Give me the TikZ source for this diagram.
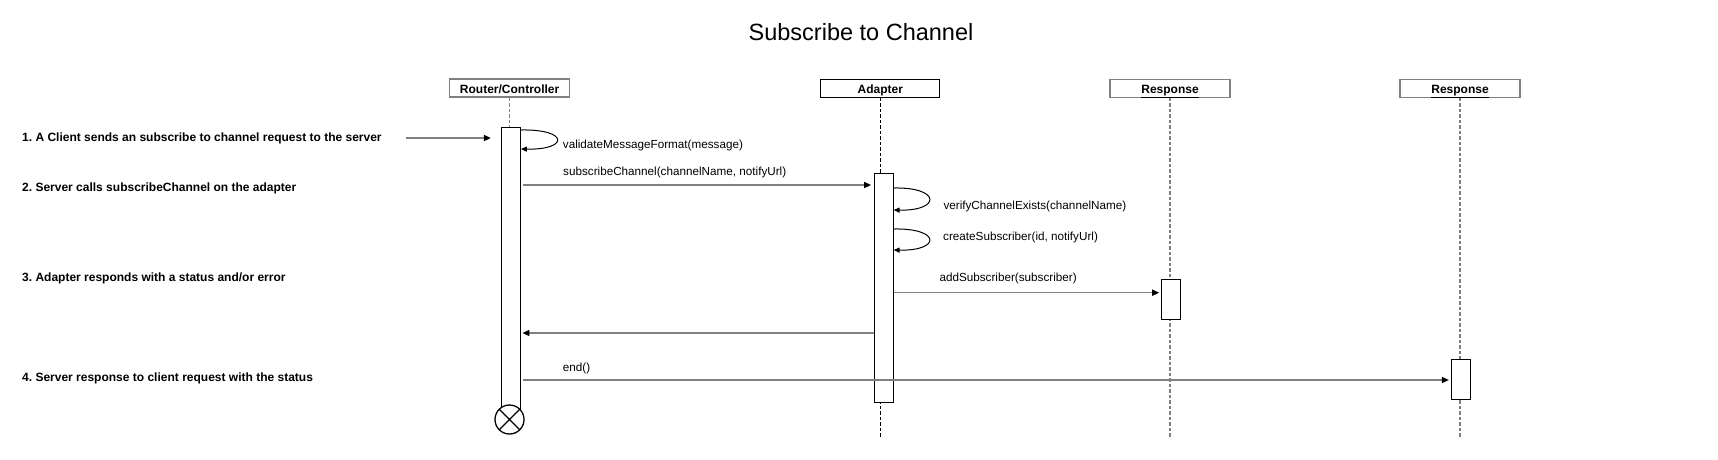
\documentclass[tikz,border=0pt]{standalone}
\usepackage{fontspec}
\setmainfont{Liberation Sans}
\usetikzlibrary{arrows.meta}
\definecolor{linegray}{RGB}{128,128,128}
\frenchspacing
\tikzset{
  lifehead/.style={draw=#1, line width=1.2pt, fill=white, minimum width=120pt, minimum height=18pt,
    inner sep=0pt, text height=10.6pt, text depth=0pt, font=\fontsize{12}{14}\selectfont\bfseries},
  actbar/.style={draw=black, line width=1pt, fill=white, minimum width=19pt, inner sep=0pt, anchor=north},
  lifeline/.style={draw=#1, line width=1.2pt, dash pattern=on 3.5pt off 2pt},
  msg/.style={draw=linegray, line width=1.5pt, -{Triangle[length=7pt,width=6pt,color=black]}},
  selfmsg/.style={draw=black, line width=1pt, -{Triangle[length=6pt,width=5pt,color=black]}},
  note/.style={anchor=base west, inner sep=0pt, font=\fontsize{12}{14}\selectfont\bfseries},
  lbl/.style={anchor=base west, inner sep=0pt, font=\fontsize{11.7}{14}\selectfont},
  destroy/.style={circle, draw=black, line width=1.3pt, fill=white, minimum size=29pt, inner sep=0pt,
    path picture={\draw[line width=1.1pt] (path picture bounding box.north west) -- (path picture bounding box.south east)
      (path picture bounding box.north east) -- (path picture bounding box.south west);}}
}
\begin{document}
\begin{tikzpicture}[x=1pt, y=-1pt]
\useasboundingbox[fill=white] (0,0) rectangle (1718,459);

% title
\node[anchor=base, inner sep=0pt, font=\fontsize{23.5}{28}\selectfont] (title) at (861,40) {Subscribe to Channel};

% lifeline heads
\node[lifehead=linegray] (rc) at (509.6,88) {Router/Controller};
\node[lifehead=black, line width=0.9pt, minimum width=119pt] (ad) at (880.4,88.3) {Adapter};
\node[lifehead=linegray] (r1) at (1170,88.3) {\underline{Response}};
\node[lifehead=linegray] (r2) at (1460,88.3) {\underline{Response}};

% lifelines
\draw[lifeline=linegray] (rc.south) -- (rc.south |- 0,128);
\draw[lifeline=black, line width=1pt] (ad.south) -- (ad.south |- 0,438);
\draw[lifeline=linegray] (r1.south) -- (r1.south |- 0,438);
\draw[lifeline=linegray] (r2.south) -- (r2.south |- 0,438);

% activation bars
\node[actbar, minimum height=285pt] (rcbar) at (510.9,127) {};
\node[actbar, minimum height=229.3pt] (adbar) at (883.6,172.7) {};
\node[actbar, minimum height=40pt] (r1bar) at (1171.2,279) {};
\node[actbar, minimum height=40pt] (r2bar) at (1460.9,359) {};

% destroy
\node[destroy] (x) at (509.5,419.5) {};

% notes
\node[note] (n1) at (22,141) {1. A Client sends an subscribe to channel request to the server};
\node[note] (n2) at (22,191) {2. Server calls subscribeChannel on the adapter};
\node[note] (n3) at (22,281) {3. Adapter responds with a status and/or error};
\node[note] (n4) at (22,381) {4. Server response to client request with the status};

% found message
\coordinate (start) at (406,138);
\draw[msg, shorten >=10pt] (start) -- (rcbar.west |- 0,138);

% self call validate
\draw[selfmsg] (rcbar.east |- 0,130) .. controls (569,129) and (569,150) .. (rcbar.east |- 0,149);
\node[lbl] (l1) at (562.7,148.2) {validateMessageFormat(message)};

% subscribeChannel
\draw[msg, shorten <=2.5pt, shorten >=2.5pt] (rcbar.east |- 0,185) -- (adbar.west |- 0,185);
\node[lbl] (l2) at (563,175) {subscribeChannel(channelName, notifyUrl)};

% verify
\draw[selfmsg] (adbar.east |- 0,188) .. controls (941,187) and (941,211) .. (adbar.east |- 0,210);
\node[lbl] (l3) at (943.3,209.5) {verifyChannelExists(channelName)};

% create
\draw[selfmsg] (adbar.east |- 0,229) .. controls (941,228) and (941,251) .. (adbar.east |- 0,250);
\node[lbl] (l4) at (943,240.7) {createSubscriber(id, notifyUrl)};

% addSubscriber
\draw[msg, shorten >=2pt] (adbar.east |- 0,292.7) -- (r1bar.west |- 0,292.7);
\node[lbl] (l5) at (939.3,281.5) {addSubscriber(subscriber)};

% return
\draw[msg, shorten >=1.5pt] (adbar.west |- 0,333) -- (rcbar.east |- 0,333);

% end
\draw[msg, shorten <=2.5pt, shorten >=2pt] (rcbar.east |- 0,380) -- (r2bar.west |- 0,380);
\node[lbl] (l6) at (562.7,371) {end()};
\end{tikzpicture}
\end{document}
